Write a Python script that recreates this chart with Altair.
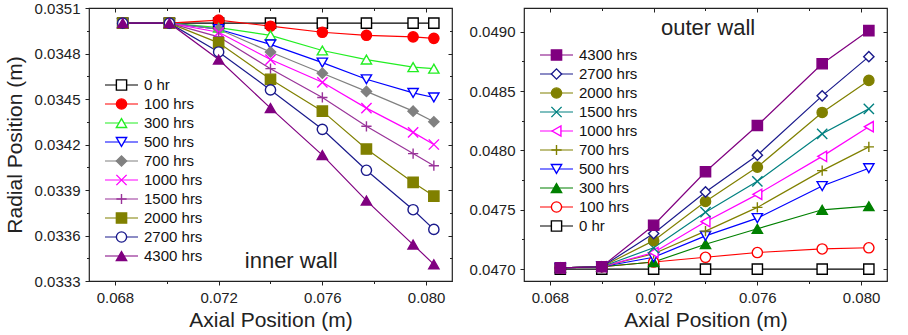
import altair as alt
import pandas as pd

FONT = "Liberation Sans"
INK = "#222222"

# ---------------- inner wall (left panel) ----------------
inner_x = [0.0683, 0.0701, 0.0720, 0.0740, 0.0760, 0.0777, 0.0795, 0.0803]
inner_labels = ["0 hr", "100 hrs", "300 hrs", "500 hrs", "700 hrs",
                "1000 hrs", "1500 hrs", "2000 hrs", "2700 hrs", "4300 hrs"]
inner_0 = [0.03500, 0.03500, 0.03500, 0.03500, 0.03500, 0.03500, 0.03500, 0.03500]
inner_100 = [0.03500, 0.03500, 0.03502, 0.03498, 0.03494, 0.03492, 0.03491, 0.03490]
inner_300 = [0.03500, 0.03500, 0.03497, 0.03492, 0.03482, 0.03476, 0.03471, 0.03470]
inner_500 = [0.03500, 0.03500, 0.03496, 0.03486, 0.03474, 0.03463, 0.03454, 0.03451]
inner_700 = [0.03500, 0.03500, 0.03496, 0.03481, 0.03467, 0.03455, 0.03442, 0.03435]
inner_1000 = [0.03500, 0.03500, 0.03494, 0.03476, 0.03461, 0.03444, 0.03428, 0.03420]
inner_1500 = [0.03500, 0.03500, 0.03491, 0.03470, 0.03451, 0.03432, 0.03414, 0.03406]
inner_2000 = [0.03500, 0.03500, 0.03487, 0.03463, 0.03442, 0.03417, 0.03395, 0.03386]
inner_2700 = [0.03500, 0.03500, 0.03481, 0.03456, 0.03430, 0.03403, 0.03377, 0.03364]
inner_4300 = [0.03500, 0.03500, 0.03476, 0.03444, 0.03413, 0.03383, 0.03354, 0.03341]
inner_series = [inner_0, inner_100, inner_300, inner_500, inner_700,
                inner_1000, inner_1500, inner_2000, inner_2700, inner_4300]
inner_colors = ["#000000", "#ff0000", "#22ee22", "#0000ff", "#808080",
                "#ff00ff", "#993399", "#808000", "#1a1a8c", "#800080"]
inner_fills = ["white", "#ff0000", "white", "white", "#808080",
               "white", "white", "#808000", "white", "#800080"]

# ---------------- outer wall (right panel) ----------------
outer_x = [0.0684, 0.0700, 0.0720, 0.0740, 0.0760, 0.0785, 0.0803]
outer_labels = ["4300 hrs", "2700 hrs", "2000 hrs", "1500 hrs", "1000 hrs",
                "700 hrs", "500 hrs", "300 hrs", "100 hrs", "0 hr"]
outer_4300 = [0.04701, 0.04702, 0.04737, 0.04782, 0.04821, 0.04873, 0.04901]
outer_2700 = [0.04701, 0.04702, 0.04730, 0.04765, 0.04796, 0.04846, 0.04879]
outer_2000 = [0.04701, 0.04702, 0.04724, 0.04757, 0.04786, 0.04832, 0.04859]
outer_1500 = [0.04701, 0.04702, 0.04718, 0.04748, 0.04774, 0.04814, 0.04835]
outer_1000 = [0.04701, 0.04702, 0.04714, 0.04740, 0.04763, 0.04795, 0.04820]
outer_700 = [0.04701, 0.04702, 0.04713, 0.04732, 0.04752, 0.04783, 0.04803]
outer_500 = [0.04701, 0.04702, 0.04710, 0.04728, 0.04743, 0.04770, 0.04785]
outer_300 = [0.04701, 0.04702, 0.04706, 0.04721, 0.04734, 0.04750, 0.04753]
outer_100 = [0.04701, 0.04702, 0.04706, 0.04710, 0.04714, 0.04717, 0.04718]
outer_0 = [0.04700, 0.04700, 0.04700, 0.04700, 0.04700, 0.04700, 0.04700]
outer_series = [outer_4300, outer_2700, outer_2000, outer_1500, outer_1000,
                outer_700, outer_500, outer_300, outer_100, outer_0]
outer_colors = ["#800080", "#1a1a8c", "#808000", "#008080", "#ff00ff",
                "#808000", "#0000ff", "#008000", "#ff0000", "#000000"]
outer_fills = ["#800080", "white", "#808000", "white", "white",
               "white", "white", "#008000", "white", "white"]

PLUS = "M-1,0L1,0M0,-1L0,1"
XMARK = "M-1,-1L1,1M-1,1L1,-1"
inner_shapes = ["square", "circle", "triangle-up", "triangle-down", "diamond",
                XMARK, PLUS, "square", "circle", "triangle-up"]
outer_shapes = ["square", "diamond", "circle", XMARK, "triangle-left",
                PLUS, "triangle-down", "triangle-up", "circle", "square"]

x_major = [0.068, 0.072, 0.076, 0.080]
x_minor = [0.070, 0.074, 0.078]
inner_y_major = [0.0333, 0.0336, 0.0339, 0.0342, 0.0345, 0.0348, 0.0351]
inner_y_minor = [0.03345, 0.03375, 0.03405, 0.03435, 0.03465, 0.03495]
outer_y_major = [0.0470, 0.0475, 0.0480, 0.0485, 0.0490]
outer_y_minor = [0.04725, 0.04775, 0.04825, 0.04875]


def frame(labels, xs, series, draw_order):
    rows = []
    for lab in draw_order:
        ys = series[labels.index(lab)]
        for xv, yv in zip(xs, ys):
            rows.append({"x": xv, "y": yv, "series": lab})
    return pd.DataFrame(rows)


inner_df = frame(inner_labels, inner_x, inner_series, inner_labels)
outer_df = frame(outer_labels, outer_x, outer_series, outer_labels[::-1])

PW, PH = 363, 273
MSIZE = 105


def axis(orient, values, labels=False, title=None, size=4, offset=0, fmt=None, tpad=4):
    kw = dict(orient=orient, values=values, labels=labels, ticks=True,
              tickSize=size, tickColor=INK, tickWidth=1, domain=False,
              grid=False, offset=offset, labelFlush=False, labelOverlap=False,
              labelFont=FONT, labelFontSize=15, labelColor=INK, labelPadding=5,
              titleFont=FONT, titleFontSize=21, titleFontWeight="normal",
              titleColor=INK, titlePadding=tpad)
    if fmt:
        kw["format"] = fmt
    if title:
        kw["title"] = title
    else:
        kw["title"] = None
    return alt.Axis(**kw)


def panel(df, order, colors, fills, shapes, x_dom, y_dom, y_major, y_minor,
          y_title, leg_range, note, note_x, note_y):
    xs = alt.Scale(domain=x_dom, nice=False, zero=False)
    ys = alt.Scale(domain=y_dom, nice=False, zero=False)
    stroke = alt.Stroke("series:N", scale=alt.Scale(domain=order, range=colors), legend=None)
    fill = alt.Fill("series:N", scale=alt.Scale(domain=order, range=fills), legend=None)
    shape = alt.Shape("series:N", scale=alt.Scale(domain=order, range=shapes), legend=None)
    base = alt.Chart(df)

    lines = base.mark_line(strokeWidth=1.2).encode(
        x=alt.X("x:Q", scale=xs, axis=axis("bottom", x_major, labels=True,
                                           title="Axial Position (m)", size=4, fmt=".3f", tpad=4)),
        y=alt.Y("y:Q", scale=ys, axis=axis("left", y_major, labels=True,
                                           title=y_title, size=4, fmt=".4f", tpad=9)),
        stroke=stroke, detail="series:N")
    minor_bl = base.mark_point(opacity=0).encode(
        x=alt.X("x:Q", scale=xs, axis=axis("bottom", x_minor, size=2.5)),
        y=alt.Y("y:Q", scale=ys, axis=axis("left", y_minor, size=2.5)))
    major_tr = base.mark_point(opacity=0).encode(
        x=alt.X("x:Q", scale=xs, axis=axis("top", x_major, size=4, offset=-4)),
        y=alt.Y("y:Q", scale=ys, axis=axis("right", y_major, size=4, offset=-4)))
    minor_tr = base.mark_point(opacity=0).encode(
        x=alt.X("x:Q", scale=xs, axis=axis("top", x_minor, size=2.5, offset=-2.5)),
        y=alt.Y("y:Q", scale=ys, axis=axis("right", y_minor, size=2.5, offset=-2.5)))
    points = base.mark_point(opacity=1, size=MSIZE, strokeWidth=1.4).encode(
        x=alt.X("x:Q", scale=xs, axis=None),
        y=alt.Y("y:Q", scale=ys, axis=None),
        stroke=stroke, fill=fill, shape=shape)
    note_df = pd.DataFrame({"x": [note_x], "y": [note_y], "t": [note]})
    note_txt = alt.Chart(note_df).mark_text(font=FONT, fontSize=22, color=INK,
                                            baseline="middle", align="center").encode(
        x=alt.X("x:Q", scale=xs, axis=None),
        y=alt.Y("y:Q", scale=ys, axis=None),
        text="t:N")
    data_layer = alt.layer(lines, minor_bl, major_tr, minor_tr, points, note_txt).resolve_axis(
        x="independent", y="independent")

    leg_df = pd.DataFrame({"series": order})
    ly = alt.Y("series:N", sort=order,
               scale=alt.Scale(type="point", domain=order, range=leg_range, padding=0),
               axis=None)
    leg_rule = alt.Chart(leg_df).mark_rule(strokeWidth=1.2).encode(
        x=alt.value(16), x2=alt.value(49), y=ly, stroke=stroke)
    leg_pt = alt.Chart(leg_df).mark_point(opacity=1, size=MSIZE, strokeWidth=1.4).encode(
        x=alt.value(32.5), y=ly, stroke=stroke, fill=fill, shape=shape)
    leg_txt = alt.Chart(leg_df).mark_text(font=FONT, fontSize=15, color="#111111",
                                          align="left", baseline="middle").encode(
        x=alt.value(55), y=ly, text="series:N")
    legend_layer = alt.layer(leg_rule, leg_pt, leg_txt)

    return alt.layer(data_layer, legend_layer).resolve_scale(y="independent").properties(
        width=PW, height=PH)


left = panel(inner_df, inner_labels, inner_colors, inner_fills, inner_shapes,
             [0.067, 0.081], [0.0333, 0.0351], inner_y_major, inner_y_minor,
             "Radial Position (m)", [77, 248], "inner wall", 0.0748, 0.03343)
right = panel(outer_df, outer_labels, outer_colors, outer_fills, outer_shapes,
              [0.067, 0.081], [0.0469, 0.0492], outer_y_major, outer_y_minor,
              None, [47, 218], "outer wall", 0.0741, 0.04903)

chart = alt.hconcat(left, right, spacing=72, bounds="flush").resolve_scale(
    stroke="independent", fill="independent", shape="independent"
).properties(
    padding={"left": 3, "top": 0, "right": 0, "bottom": 0}
).configure_view(stroke=INK, strokeWidth=1.2)

chart.save("out.html", embed_options={"renderer": "svg", "actions": False})
